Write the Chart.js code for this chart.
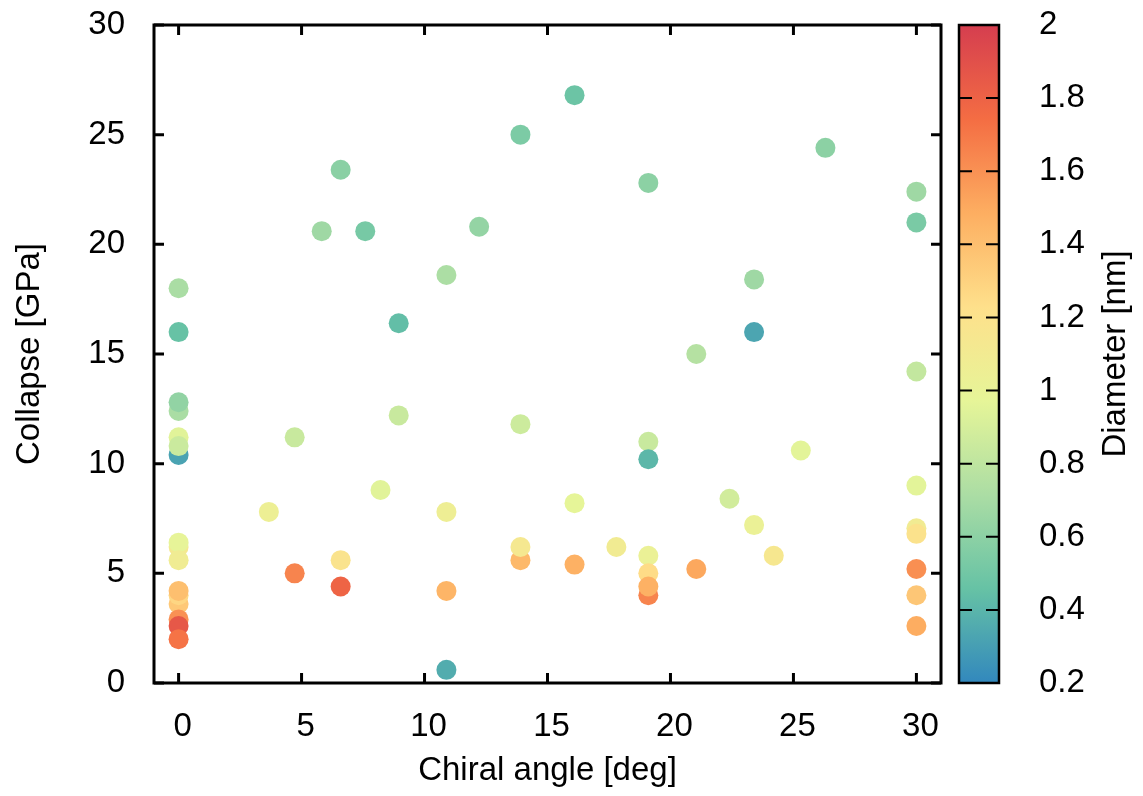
<!DOCTYPE html>
<html>
<head>
<meta charset="utf-8">
<script src="https://cdn.jsdelivr.net/npm/chart.js@4.4.1/dist/chart.umd.min.js"></script>
<style>
  body { margin: 0; background: #fff; }
  #wrap { width: 1143px; height: 796px; }
</style>
</head>
<body>
<div id="wrap"><canvas id="myChart" width="1143" height="796"></canvas></div>
<script>
// chiral angle [deg]
const angle = [
  0, 0, 0, 0, 0, 0, 0,
  0, 0, 0,
  0, 0, 0,
  0, 0, 0,
  3.67, 4.72, 4.72, 5.82, 6.59, 6.59, 6.59, 7.59, 8.21, 8.95, 8.95,
  10.89, 10.89, 10.89, 10.89, 12.22, 13.9, 13.9, 13.9, 13.9,
  16.1, 16.1, 16.1, 17.8,
  19.1, 19.1, 19.1, 19.1, 19.1, 19.1, 19.1,
  21.05, 21.05, 22.4, 23.4, 23.4, 23.4, 24.2, 25.3, 26.3,
  30, 30, 30, 30, 30, 30, 30, 30, 30
];
// collapse pressure [GPa]
const collapse = [
  18.0, 16.0, 10.4, 12.4, 12.8, 11.2, 10.8,
  6.2, 6.4, 5.6,
  3.6, 4.0, 4.2,
  2.9, 2.6, 2.0,
  7.8, 11.2, 5.0, 20.6, 23.4, 5.6, 4.4, 20.6, 8.8, 16.4, 12.2,
  18.6, 7.8, 4.2, 0.6, 20.8, 25.0, 11.8, 5.6, 6.2,
  26.8, 8.2, 5.4, 6.2,
  22.8, 11.0, 10.2, 5.8, 5.0, 4.0, 4.4,
  15.0, 5.2, 8.4, 18.4, 16.0, 7.2, 5.8, 10.6, 24.4,
  22.4, 21.0, 14.2, 9.0, 7.05, 6.8, 5.2, 4.0, 2.6
];
// tube diameter [nm], mapped to colour
const diameter = [
  0.71, 0.46, 0.32, 0.71, 0.62, 0.95, 0.85,
  1.12, 0.98, 1.08,
  1.35, 1.28, 1.40,
  1.60, 1.86, 1.72,
  1.05, 0.84, 1.65, 0.67, 0.59, 1.19, 1.79, 0.52, 0.95, 0.44, 0.84,
  0.72, 1.06, 1.45, 0.36, 0.63, 0.54, 0.86, 1.43, 1.13,
  0.48, 0.97, 1.47, 1.09,
  0.60, 0.84, 0.41, 1.02, 1.25, 1.65, 1.47,
  0.76, 1.51, 0.88, 0.67, 0.33, 1.02, 1.14, 0.96, 0.60,
  0.67, 0.53, 0.82, 0.96, 1.09, 1.20, 1.61, 1.36, 1.49
];
const dMin = 0.2, dMax = 2;

// spectral palette, low -> high
const palette = ['#3288bd', '#66c2a5', '#abdda4', '#e6f598', '#fee08b', '#fdae61', '#f46d43', '#d53e4f'];

function hexRgb(h) {
  return [parseInt(h.slice(1, 3), 16), parseInt(h.slice(3, 5), 16), parseInt(h.slice(5, 7), 16)];
}
function colorFor(d) {
  let t = (d - dMin) / (dMax - dMin);
  t = Math.max(0, Math.min(1, t)) * (palette.length - 1);
  const i = Math.min(Math.floor(t), palette.length - 2);
  const f = t - i;
  const a = hexRgb(palette[i]), b = hexRgb(palette[i + 1]);
  const c = a.map((v, k) => Math.round(v + (b[k] - v) * f));
  return 'rgb(' + c.join(',') + ')';
}

const points = angle.map((a, i) => ({x: a, y: collapse[i]}));

const FONT = {family: "'Liberation Sans', Arial, sans-serif", size: 33};

// the label paddings would otherwise push the plot area down
function noPad(s) {
  s.paddingTop = 0; s.paddingBottom = 0;
  s.paddingLeft = 0; s.paddingRight = 0;
}

const framePlugin = {
  id: 'frame',
  afterDraw(chart) {
    const ctx = chart.ctx;
    const a = chart.chartArea;
    const xs = chart.scales.x, ys = chart.scales.y, cs = chart.scales.c;
    ctx.save();
    ctx.strokeStyle = '#000';
    ctx.lineWidth = 3;
    ctx.strokeRect(a.left, a.top, a.right - a.left, a.bottom - a.top);
    ctx.beginPath();
    xs.ticks.forEach(t => {
      const px = xs.getPixelForValue(t.value);
      ctx.moveTo(px, a.bottom); ctx.lineTo(px, a.bottom - 10);
      ctx.moveTo(px, a.top); ctx.lineTo(px, a.top + 10);
    });
    ys.ticks.forEach(t => {
      const py = ys.getPixelForValue(t.value);
      ctx.moveTo(a.left, py); ctx.lineTo(a.left + 10, py);
      ctx.moveTo(a.right, py); ctx.lineTo(a.right - 10, py);
    });
    ctx.stroke();

    // colour bar
    const bx = a.right + 18, bw = 40;
    const top = cs.getPixelForValue(dMax), bot = cs.getPixelForValue(dMin);
    const g = ctx.createLinearGradient(0, bot, 0, top);
    palette.forEach((p, i) => g.addColorStop(i / (palette.length - 1), p));
    ctx.fillStyle = g;
    ctx.fillRect(bx, top, bw, bot - top);
    ctx.lineWidth = 2;
    ctx.beginPath();
    cs.ticks.forEach(t => {
      const py = cs.getPixelForValue(t.value);
      ctx.moveTo(bx, py); ctx.lineTo(bx + 13, py);
      ctx.moveTo(bx + bw, py); ctx.lineTo(bx + bw - 13, py);
    });
    ctx.stroke();
    ctx.lineWidth = 2.5;
    ctx.strokeRect(bx, top, bw, bot - top);

    ctx.translate(1116, (top + bot) / 2);
    ctx.rotate(-Math.PI / 2);
    ctx.fillStyle = '#000';
    ctx.font = FONT.size + 'px ' + FONT.family;
    ctx.textAlign = 'center';
    ctx.textBaseline = 'middle';
    ctx.fillText('Diameter [nm]', 0, 0);
    ctx.restore();
  }
};

Chart.defaults.font.family = FONT.family;
Chart.defaults.color = '#000';

new Chart(document.getElementById('myChart'), {
  type: 'scatter',
  data: {
    datasets: [{
      data: points,
      backgroundColor: ctx => colorFor(diameter[ctx.dataIndex]),
      borderWidth: 0,
      pointRadius: 10,
      pointHoverRadius: 10
    }]
  },
  options: {
    responsive: false,
    animation: false,
    events: [],
    layout: {padding: {top: 25, left: 0, right: 0, bottom: 0}},
    plugins: {legend: {display: false}, tooltip: {enabled: false}},
    scales: {
      x: {
        type: 'linear',
        position: 'bottom',
        min: -1,
        max: 31,
        grid: {display: false},
        border: {display: false},
        ticks: {stepSize: 5, includeBounds: false, padding: 16, labelOffset: 4, font: FONT},
        title: {display: true, text: 'Chiral angle [deg]', font: FONT, padding: {top: 0, bottom: 5}},
        afterFit: s => { s.height = 113; noPad(s); }
      },
      y: {
        type: 'linear',
        position: 'left',
        min: 0,
        max: 30,
        grid: {display: false},
        border: {display: false},
        ticks: {stepSize: 5, includeBounds: false, padding: 21, font: FONT},
        title: {display: true, text: 'Collapse [GPa]', font: FONT, padding: {top: 10, bottom: 0}},
        afterFit: s => { s.width = 154; noPad(s); }
      },
      c: {
        type: 'linear',
        position: 'right',
        min: dMin,
        max: dMax,
        grid: {display: false},
        border: {display: false},
        ticks: {
          stepSize: 0.2,
          includeBounds: false,
          padding: 90,
          font: FONT,
          callback: v => String(Math.round(v * 10) / 10)
        },
        afterFit: s => { s.width = 202; noPad(s); }
      }
    }
  },
  plugins: [framePlugin]
});
</script>
</body>
</html>
